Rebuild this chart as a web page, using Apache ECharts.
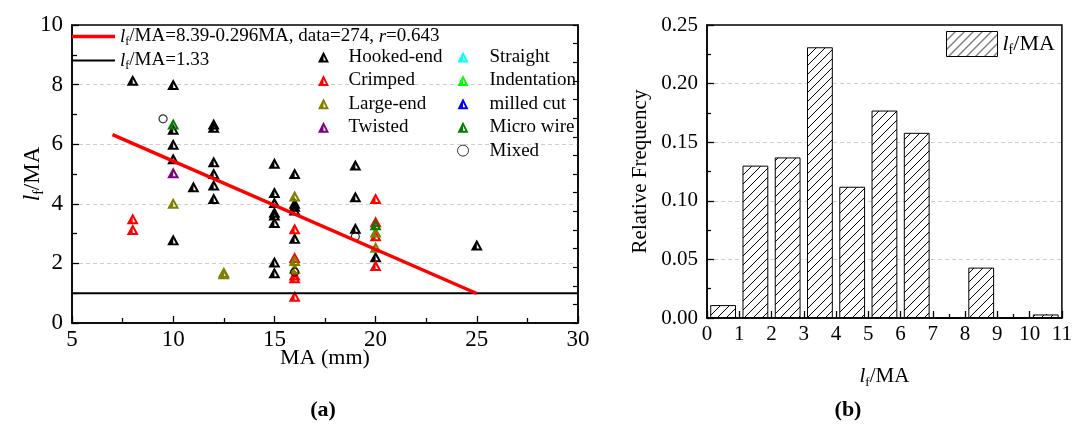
<!DOCTYPE html>
<html><head><meta charset="utf-8">
<script src="https://cdn.jsdelivr.net/npm/echarts@6/dist/echarts.min.js"></script>
<style>html,body{margin:0;padding:0;background:#fff}#c{width:1075px;height:425px}</style>
</head><body><div id="c"></div>
<script>
// ---------- data (a) ----------
const hookedEnd = [[8,8.15],[10,8.0],[10,6.5],[10,6.0],[10,5.51],[10,2.79],[11,4.57],[12,6.68],[12,6.57],[12,5.41],[12,5.02],[12,4.63],[12,4.18],[15,5.36],[15,4.38],[15,4.04],[15,3.72],[15,3.62],[15,3.37],[15,2.05],[15,1.69],[16,5.02],[16,4.02],[16,3.92],[16,3.79],[16,2.84],[19,5.3],[19,4.24],[19,3.18],[20,2.22],[25,2.62]];
const crimped = [[8,3.5],[8,3.14],[16,3.16],[16,2.2],[16,1.61],[16,1.52],[16,0.9],[20,4.18],[20,3.4],[20,2.93],[20,1.93]];
const largeEnd = [[10,4.02],[12.5,1.7],[12.5,1.65],[16,4.26],[16,2.1],[16,1.84],[20,3.05],[20,2.54]];
const twisted = [[10,5.04]];
const straight = [];
const indentation = [];
const milledCut = [];
const microWire = [[10,6.68],[20,3.3]];
const mixed = [[9.5,6.85],[16,1.71],[19,2.9]];
const fitLine = [[7,6.32],[25,0.99]];
const limitLine = [[5,1.0],[30,1.0]];
// ---------- data (b) ----------
const binLabels = ['0-1','1-2','2-3','3-4','4-5','5-6','6-7','7-8','8-9','9-10','10-11'];
const binFreq = [0.011,0.13,0.137,0.231,0.112,0.177,0.158,0,0.043,0,0.003];

const FONT = 'Liberation Serif';
const TRI = 'path://M50 0L100 100L0 100Z M50 40L28 82L72 82Z M50 0L50 100L0 100Z';

function hatch(){
  const c = document.createElement('canvas'); c.width = 9; c.height = 9;
  const g = c.getContext('2d');
  g.fillStyle = '#fff'; g.fillRect(0,0,9,9);
  g.strokeStyle = '#000'; g.lineWidth = 1;
  g.beginPath();
  g.moveTo(0,9); g.lineTo(9,0);
  g.moveTo(-4.5,4.5); g.lineTo(4.5,-4.5);
  g.moveTo(4.5,13.5); g.lineTo(13.5,4.5);
  g.stroke();
  return c;
}

const richBase = (fs) => ({
  i: {fontFamily: FONT, fontStyle: 'italic', fontSize: fs, color: '#000'},
  s: {fontFamily: FONT, fontSize: Math.round(fs*0.62), color: '#000', padding: [Math.round(fs*0.55),0,0,0]},
  n: {fontFamily: FONT, fontSize: fs, color: '#000'}
});

const axisLine = {show: true, onZero: false, lineStyle: {color: '#000', width: 1.5}};
const labelStyle = (fs, m) => ({fontFamily: FONT, fontSize: fs, color: '#000', margin: m});
const gridSplit = {show: true, showMinLine: false, showMaxLine: false, lineStyle: {color: '#cfcfcf', type: [4, 3], width: 1}};

const triSeries = (name, data, color) => ({
  name, type: 'scatter', xAxisIndex: 0, yAxisIndex: 0, data,
  symbol: TRI, symbolSize: [12, 11],
  itemStyle: {color, borderWidth: 0, opacity: 1}, z: 2
});

const option = {
  animation: false,
  backgroundColor: '#fff',
  title: [
    {text: '(a)', left: 318, top: 394, textAlign: 'center', textStyle: {fontFamily: FONT, fontSize: 22, fontWeight: 'bold', color: '#000'}},
    {text: '(b)', left: 843, top: 394, textAlign: 'center', textStyle: {fontFamily: FONT, fontSize: 22, fontWeight: 'bold', color: '#000'}}
  ],
  grid: [
    {left: 72, top: 25, width: 506, height: 298, show: true, borderColor: '#000', borderWidth: 1.5},
    {left: 707, top: 25, width: 355, height: 293, show: true, borderColor: '#000', borderWidth: 1.5}
  ],
  xAxis: [
    {gridIndex: 0, type: 'value', min: 5, max: 30, interval: 5,
     name: 'MA (mm)', nameLocation: 'middle', nameGap: 24, nameMoveOverlap: false,
     nameTextStyle: {fontFamily: FONT, fontSize: 22, color: '#000'},
     axisLine, axisTick: {inside: true, length: 7, lineStyle: {color: '#000', width: 1.3}},
     minorTick: {show: true, splitNumber: 2, length: 5, lineStyle: {color: '#000', width: 1.3}},
     axisLabel: labelStyle(23, 5), splitLine: {show: false}},
    {gridIndex: 1, type: 'category', data: binLabels, show: false, boundaryGap: true},
    {gridIndex: 1, type: 'value', min: 0, max: 11, interval: 1, position: 'bottom',
     name: '{i|l}{s|f}/MA', nameLocation: 'middle', nameGap: 46, nameMoveOverlap: false,
     nameTextStyle: {fontFamily: FONT, fontSize: 21, color: '#000', rich: richBase(21)},
     axisLine, axisTick: {inside: true, length: 7, lineStyle: {color: '#000', width: 1.3}},
     minorTick: {show: true, splitNumber: 2, length: 4, lineStyle: {color: '#000', width: 1.3}},
     axisLabel: labelStyle(21, 6), splitLine: {show: false}}
  ],
  yAxis: [
    {gridIndex: 0, type: 'value', min: 0, max: 10, interval: 2,
     name: '{i|l}{s|f}/MA', nameLocation: 'middle', nameGap: 26, nameRotate: 90, nameMoveOverlap: false,
     nameTextStyle: {fontFamily: FONT, fontSize: 23, color: '#000', rich: richBase(23)},
     axisLine, axisTick: {inside: true, length: 7, lineStyle: {color: '#000', width: 1.3}},
     minorTick: {show: true, splitNumber: 2, length: 5, lineStyle: {color: '#000', width: 1.3}},
     axisLabel: labelStyle(23, 9), splitLine: gridSplit},
    {gridIndex: 0, type: 'value', min: 0, max: 16, interval: 1, position: 'right',
     axisLine, axisTick: {inside: true, length: 5, lineStyle: {color: '#000', width: 1.2}},
     axisLabel: {show: false}, splitLine: {show: false}},
    {gridIndex: 1, type: 'value', min: 0, max: 0.25, interval: 0.05,
     name: 'Relative Frequency', nameLocation: 'middle', nameGap: 56, nameRotate: 90, nameMoveOverlap: false,
     nameTextStyle: {fontFamily: FONT, fontSize: 21, color: '#000'},
     axisLine, axisTick: {inside: true, length: 7, lineStyle: {color: '#000', width: 1.3}},
     minorTick: {show: true, splitNumber: 2, length: 4, lineStyle: {color: '#000', width: 1.3}},
     axisLabel: Object.assign(labelStyle(21, 9), {formatter: v => v.toFixed(2)}),
     splitLine: gridSplit}
  ],
  legend: [
    {data: [{name: 'fit', icon: 'rect'}], left: 72, top: 27, padding: 0, itemWidth: 43, itemHeight: 3.5,
     formatter: () => '{i|l}{s|f}{n|/MA=8.39-0.296MA, data=274, }{i|r}{n|=0.643}',
     textStyle: {fontFamily: FONT, fontSize: 19, color: '#000', rich: richBase(19)}},
    {data: [{name: 'limit', icon: 'rect'}], left: 72, top: 51, padding: 0, itemWidth: 43, itemHeight: 2,
     formatter: () => '{i|l}{s|f}{n|/MA=1.33}',
     textStyle: {fontFamily: FONT, fontSize: 19, color: '#000', rich: richBase(19)}},
    {orient: 'vertical', left: 318, top: 47, padding: 0, itemWidth: 40, itemHeight: 11, itemGap: 3.4,
     data: ['Hooked-end','Crimped','Large-end','Twisted'].map(n => ({name: n, icon: TRI, itemStyle: {borderWidth: 0}})),
     textStyle: {fontFamily: FONT, fontSize: 19, color: '#000', lineHeight: 20}},
    {orient: 'vertical', left: 457, top: 47, padding: 0, itemWidth: 43, itemHeight: 11, itemGap: 3.4,
     data: ['Straight','Indentation','milled cut','Micro wire'].map(n => ({name: n, icon: TRI, itemStyle: {borderWidth: 0}}))
       .concat([{name: 'Mixed', icon: 'circle', itemStyle: {color: '#fff', borderColor: '#000', borderWidth: 1}}]),
     textStyle: {fontFamily: FONT, fontSize: 19, color: '#000', lineHeight: 20}},
    {data: [{name: 'hist', icon: 'rect'}], left: 946, top: 31, padding: 0, itemWidth: 51, itemHeight: 25,
     itemStyle: {borderColor: '#000', borderWidth: 1},
     formatter: () => '{i|l}{s|f}{n|/MA}',
     textStyle: {fontFamily: FONT, fontSize: 22, color: '#000', rich: richBase(22)}}
  ],
  series: [
    triSeries('Hooked-end', hookedEnd, '#000000'),
    triSeries('Crimped', crimped, '#ff0000'),
    triSeries('Large-end', largeEnd, '#808000'),
    triSeries('Twisted', twisted, '#800080'),
    triSeries('Straight', straight, '#00ffff'),
    triSeries('Indentation', indentation, '#00ff00'),
    triSeries('milled cut', milledCut, '#0000ff'),
    triSeries('Micro wire', microWire, '#008000'),
    {name: 'Mixed', type: 'scatter', xAxisIndex: 0, yAxisIndex: 0, data: mixed, symbol: 'circle', symbolSize: 8,
     itemStyle: {color: 'rgba(255,255,255,0)', borderColor: '#000', borderWidth: 1.2}, z: 2},
    {name: 'fit', type: 'line', xAxisIndex: 0, yAxisIndex: 0, data: fitLine, showSymbol: false, symbol: 'none',
     lineStyle: {color: '#ff0000', width: 3.5}, itemStyle: {color: '#ff0000'}, z: 4},
    {name: 'limit', type: 'line', xAxisIndex: 0, yAxisIndex: 0, data: limitLine, showSymbol: false, symbol: 'none',
     lineStyle: {color: '#000', width: 2}, itemStyle: {color: '#000'}, z: 3},
    {name: 'hist', type: 'bar', xAxisIndex: 1, yAxisIndex: 2, data: binFreq, barCategoryGap: '20%',
     itemStyle: {color: {image: hatch(), repeat: 'repeat'}, borderColor: '#000', borderWidth: 1}}
  ]
};
const chart = echarts.init(document.getElementById('c'));
chart.setOption(option);
</script>
</body></html>
